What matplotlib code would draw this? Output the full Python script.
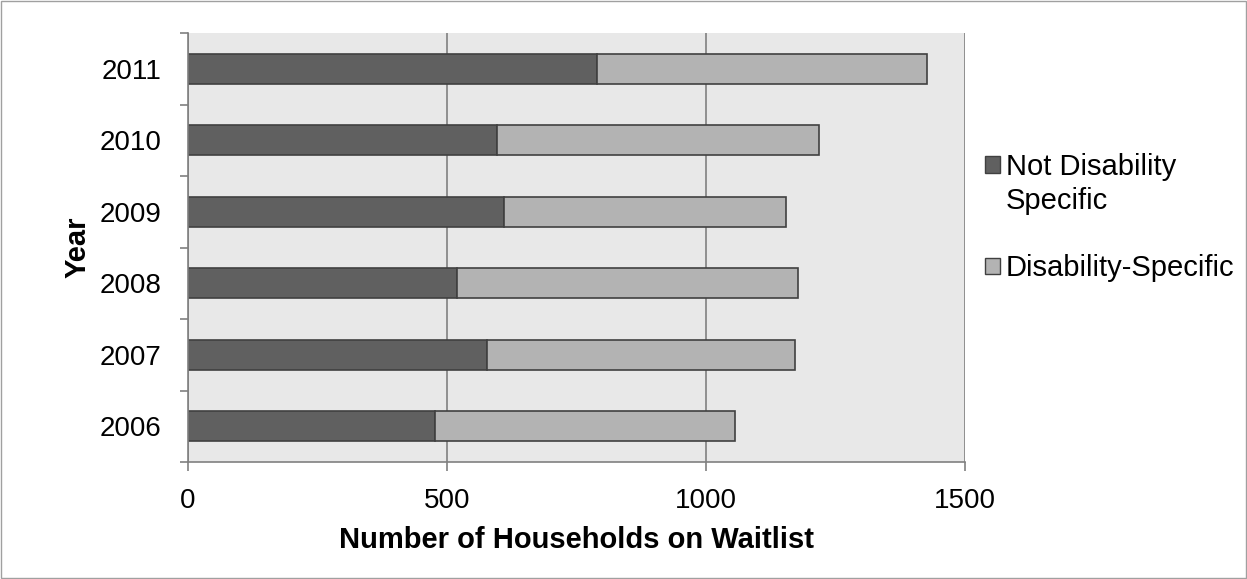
import matplotlib.pyplot as plt
from matplotlib.patches import Patch

plt.rcParams['font.family'] = ['Liberation Sans', 'DejaVu Sans']

years = ['2006', '2007', '2008', '2009', '2010', '2011']
not_disability = [476, 577, 519, 609, 596, 789]
disability = [579, 594, 658, 545, 622, 638]

fig = plt.figure(figsize=(12.47, 5.79), dpi=100)
ax = fig.add_axes([0.1508, 0.202, 0.6232, 0.741])
ax.set_facecolor('#e8e8e8')

pos = list(range(len(years)))
ax.barh(pos, not_disability, height=0.42, color='#606060', edgecolor='#404040', linewidth=1.2)
ax.barh(pos, disability, left=not_disability, height=0.42, color='#b3b3b3', edgecolor='#404040', linewidth=1.2)

ax.set_xlim(0, 1500)
ax.set_ylim(-0.5, 5.5)
ax.set_xticks([0, 500, 1000, 1500])
ax.set_yticks(pos)
ax.set_yticklabels(years)
ax.set_yticks([p - 0.5 for p in pos] + [5.5], minor=True)
ax.tick_params(axis='y', which='major', length=0, labelsize=20, pad=19)
ax.tick_params(axis='y', which='minor', length=6, width=1.2, color='#808080', direction='out')
ax.tick_params(axis='x', length=6.5, width=1.2, color='#808080', direction='out', labelsize=20, pad=12)
ax.grid(axis='x', color='#808080', linewidth=1.2)
ax.set_axisbelow(True)
for s in ['top', 'right']:
    ax.spines[s].set_visible(False)
for s in ['left', 'bottom']:
    ax.spines[s].set_color('#808080')
    ax.spines[s].set_linewidth(1.2)

ax.set_xlabel('Number of Households on Waitlist', fontsize=21, fontweight='bold', labelpad=9)
ax.set_ylabel('Year', fontsize=21, fontweight='bold', labelpad=6)

# legend: first label wraps onto a second line, square sits on the first line
blank = dict(facecolor='none', edgecolor='none')
handles = [Patch(facecolor='#606060', edgecolor='#404040', label='Not Disability'),
           Patch(label='Specific', **blank),
           Patch(label=' ', **blank),
           Patch(facecolor='#b3b3b3', edgecolor='#404040', label='Disability-Specific')]
fig.legend(handles=handles, loc='center left', bbox_to_anchor=(0.769, 0.624), frameon=False,
           fontsize=21, handlelength=0.5, handleheight=0.5, handletextpad=0.2, labelspacing=0.2)

fig.patches.append(plt.Rectangle((0.001, 0.001), 0.998, 0.998, transform=fig.transFigure,
                                 fill=False, edgecolor='#a0a0a0', linewidth=1))
fig.savefig('out.png')
